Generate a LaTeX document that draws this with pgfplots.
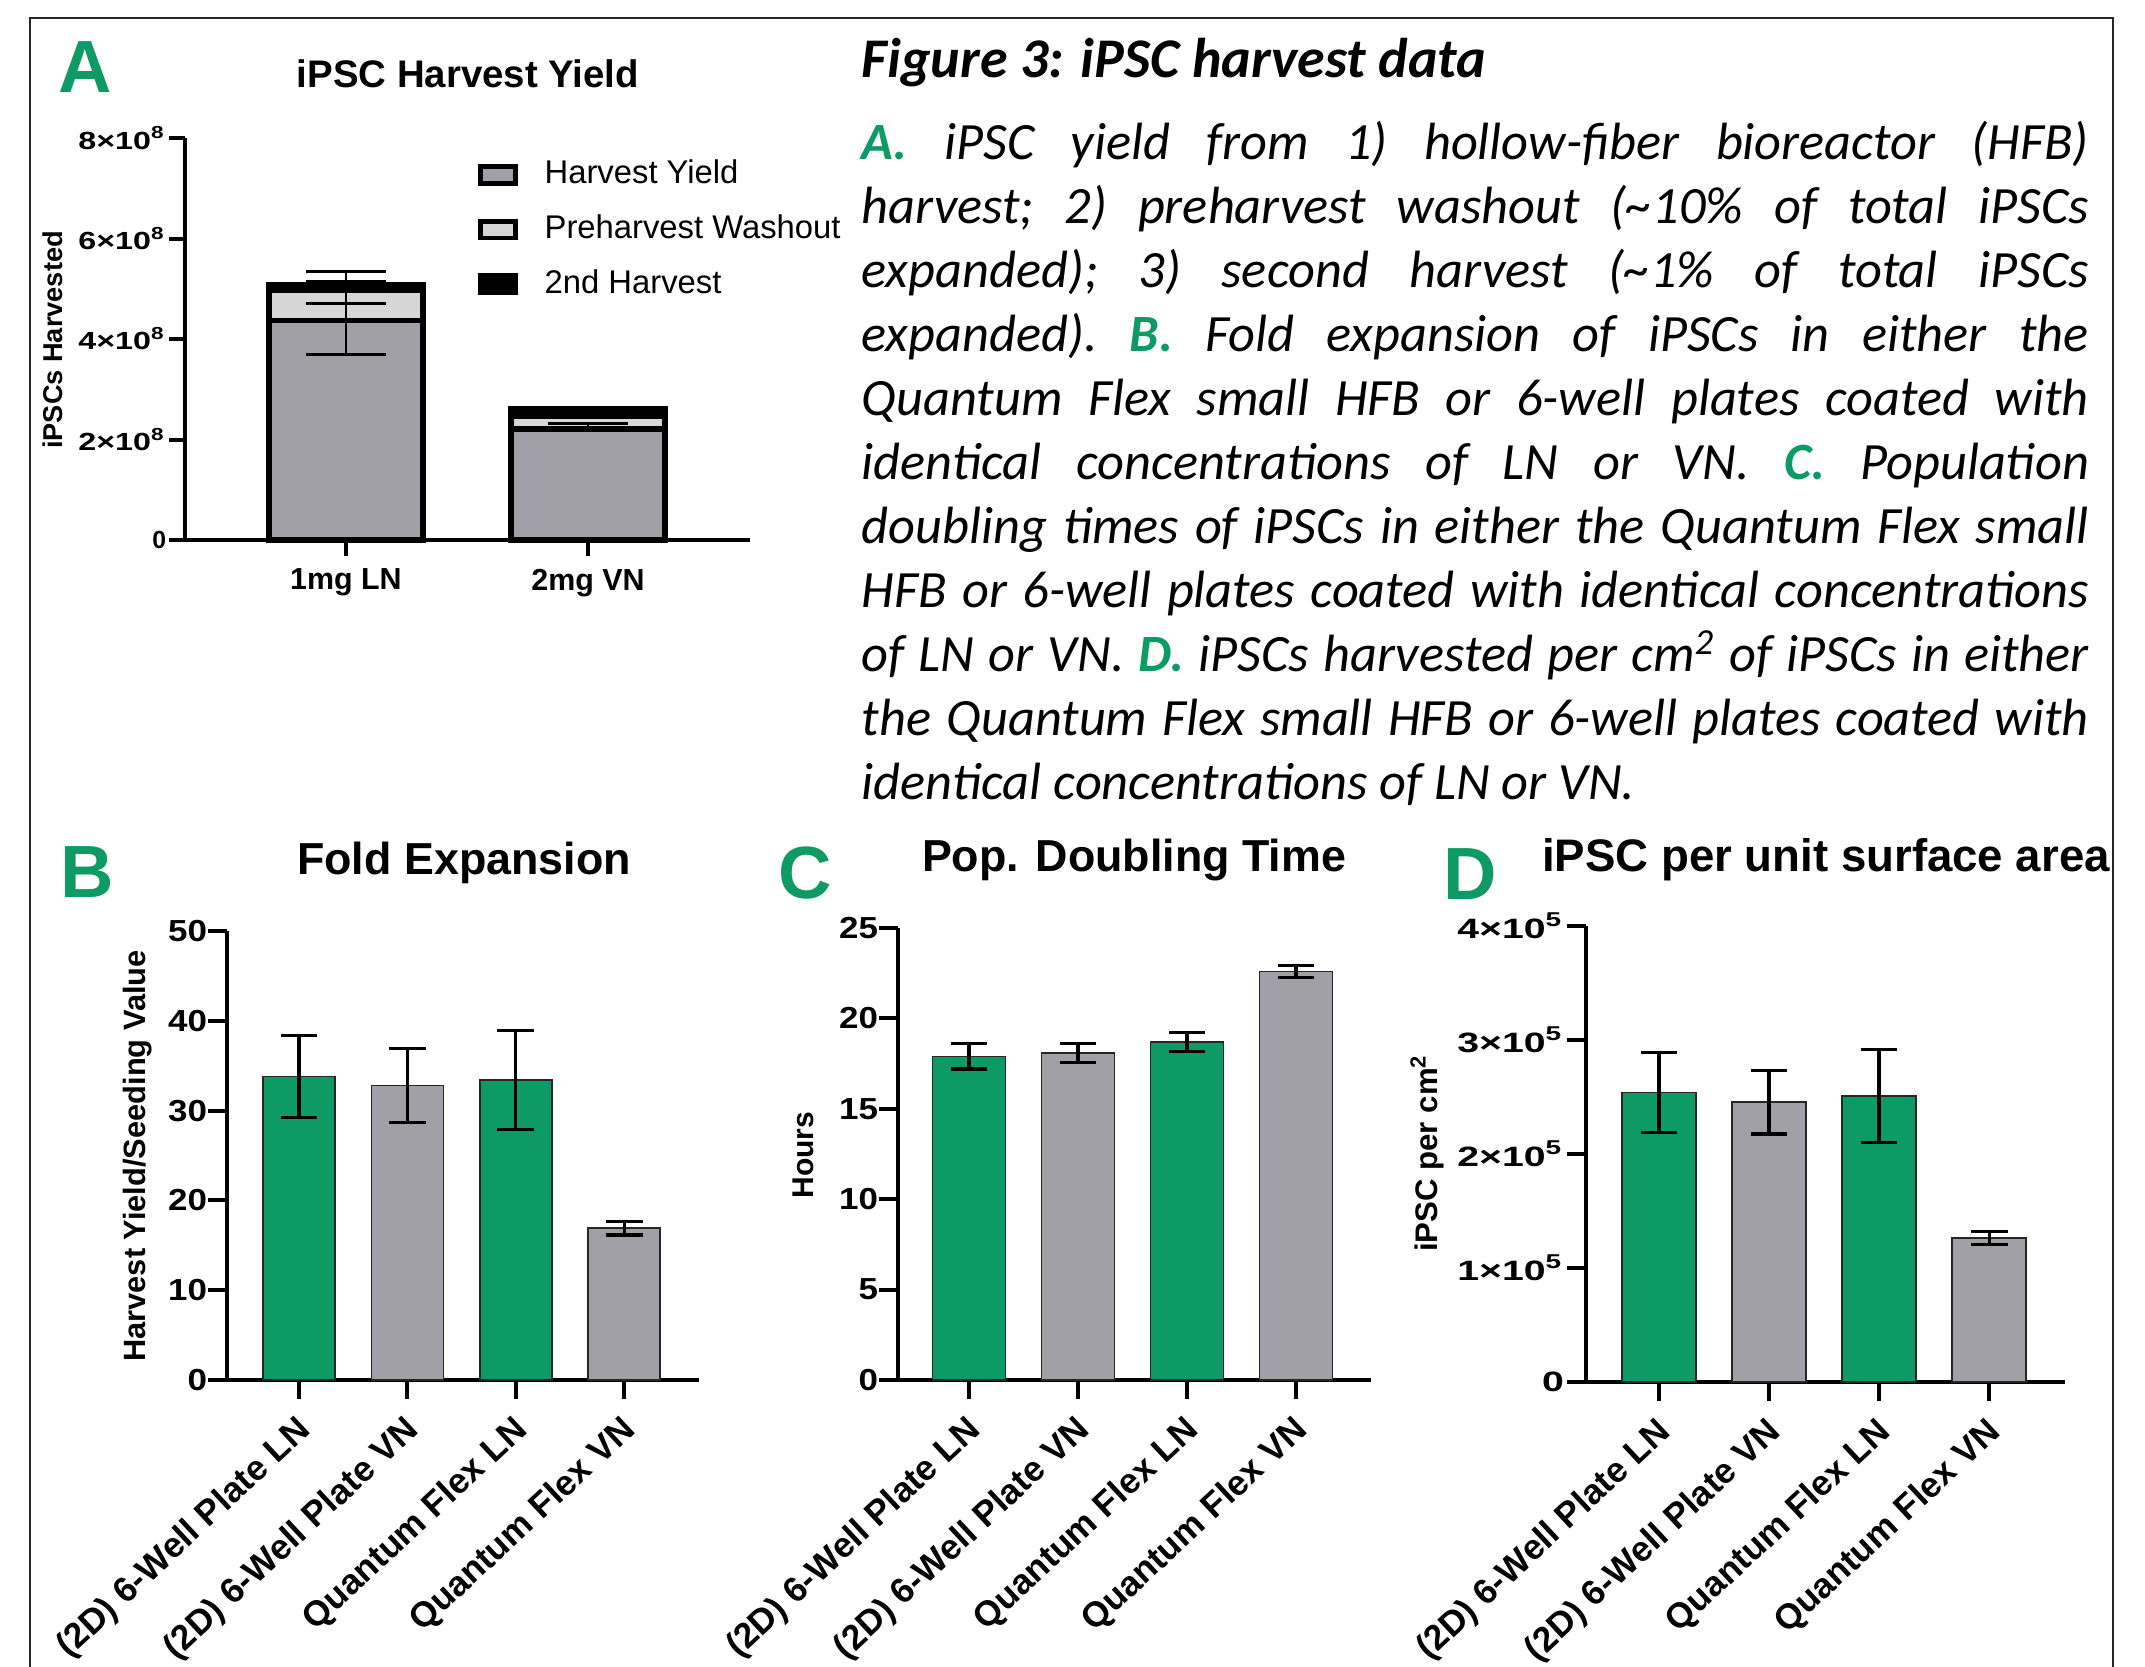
\documentclass[border=0pt]{standalone}
\usepackage{pgfplots}
\pgfplotsset{compat=1.18}
\usepackage{graphicx}
\usepackage{fontspec}
\setmainfont{Liberation Sans}
\newfontfamily\carlito{Carlito}
\definecolor{figgreen}{RGB}{14,154,100}
\definecolor{bargray}{RGB}{160,160,166}
\definecolor{washgray}{RGB}{214,214,214}
\newcommand{\fs}[1]{\fontsize{#1}{#1}\selectfont}
\newcommand{\wl}[2]{\scalebox{#1}[1]{#2}}

\pgfplotsset{
  panel/.style={
    scale only axis,
    anchor=south west,
    axis x line*=bottom, axis y line*=left,
    axis line style={-, line width=1pt, black},
    tick align=outside,
    major tick length=4.8pt,
    tick style={line width=1pt, black},
    ymin=0, clip=false,
    yticklabel style={font=\bfseries\fs{7.6}, inner sep=0pt},
  },
  catpanel/.style={panel,
    xtick={0,1,2,3},
    xticklabels={(2D) 6-Well Plate LN, (2D) 6-Well Plate VN, Quantum Flex LN, Quantum Flex VN},
    xticklabel style={xshift=1.8pt, yshift=-6.5pt, rotate=43, anchor=east, inner sep=0pt, font=\bfseries\fs{8.8}},
    xmin=-0.665, xmax=3.69,
  },
  bars/.style={ybar, bar shift=0pt, fill=#1, draw=black!85, line width=0.4pt,
    error bars/y dir=both, error bars/y explicit,
    error bars/error bar style={draw=black, line width=0.8pt},
    error bars/error mark options={draw=black, rotate=90, mark size=4.6pt, line width=0.8pt}},
  abars/.style={ybar, bar shift=0pt, bar width=38.4pt, fill=#1, draw=black, line width=1.4pt,
    error bars/y dir=both, error bars/y explicit,
    error bars/error bar style={draw=black, line width=0.7pt},
    error bars/error mark options={draw=black, rotate=90, mark size=10pt, line width=0.7pt}},
}

\begin{document}
\begin{tikzpicture}
\useasboundingbox (0,0) rectangle (536.25pt,-416.75pt);
\begin{scope}[x=0.25pt,y=-0.25pt]
\coordinate (Aorig) at (185,540);
\coordinate (Borig) at (227,1380);
\coordinate (Corig) at (898,1380);
\coordinate (Dorig) at (1586,1382);
\draw[line width=0.7pt, black!85] (30,1720) -- (30,18) -- (2113,18) -- (2113,1720);
% panel letters
\node[anchor=base west, inner sep=0pt, text=figgreen, font=\bfseries\fs{18.5}] at (58,93) {A};
\node[anchor=base west, inner sep=0pt, text=figgreen, font=\bfseries\fs{18.5}] at (60,898) {B};
\node[anchor=base west, inner sep=0pt, text=figgreen, font=\bfseries\fs{18.5}] at (778,899) {C};
\node[anchor=base west, inner sep=0pt, text=figgreen, font=\bfseries\fs{18.5}] at (1443,900) {D};
% titles
\node[anchor=base, inner sep=0pt, font=\bfseries\fs{9.6}] at (468,88) {iPSC Harvest Yield};
\node[anchor=base, inner sep=0pt, font=\bfseries\fs{11.2}] at (464,875) {Fold Expansion};
\node[anchor=base, inner sep=0pt, font=\bfseries\fs{11.2}] at (1134,872) {Pop. Doubling Time};
\node[anchor=base, inner sep=0pt, font=\bfseries\fs{11.4}] at (1826,872) {iPSC per unit surface area};
% y labels
\node[anchor=base, inner sep=0pt, rotate=90, font=\bfseries\fs{6.8}] at (63,340) {iPSCs Harvested};
\node[anchor=base, inner sep=0pt, rotate=90, font=\bfseries\fs{7.7}] at (145,1156) {Harvest Yield/Seeding Value};
\node[anchor=base, inner sep=0pt, rotate=90, font=\bfseries\fs{7.5}] at (813,1155) {Hours};
\node[anchor=base, inner sep=0pt, rotate=90, font=\bfseries\fs{7.8}] at (1437,1153) {iPSC per cm\textsuperscript{2}};
% caption
\node[anchor=base west, inner sep=0pt, font=\carlito\bfseries\itshape\fs{14}] at (861,78) {Figure 3: iPSC harvest data};
\node[anchor=base west, inner sep=0pt, text width=306.8pt, align=justify,
      font=\carlito\itshape\fontsize{13.1}{16}\selectfont] at (861,160)
{\parindent=0pt\hyphenpenalty=10000\exhyphenpenalty=10000\frenchspacing
{\color{figgreen}\bfseries A.} iPSC yield from 1) hollow-fiber bioreactor (HFB)\linebreak
harvest; 2) preharvest washout (\textasciitilde10\% of total iPSCs\linebreak
expanded); 3) second harvest (\textasciitilde1\% of total iPSCs\linebreak
expanded). {\color{figgreen}\bfseries B.} Fold expansion of iPSCs in either the\linebreak
Quantum Flex small HFB or 6-well plates coated with\linebreak
identical concentrations of LN or VN. {\color{figgreen}\bfseries C.} Population\linebreak
doubling times of iPSCs in either the Quantum Flex small\linebreak
HFB or 6-well plates coated with identical concentrations\linebreak
of LN or VN. {\color{figgreen}\bfseries D.} iPSCs harvested per cm\textsuperscript{2} of iPSCs in either\linebreak
the Quantum Flex small HFB or 6-well plates coated with\linebreak
identical concentrations of LN or VN.\par};
\end{scope}

% ---------------- Panel A
\begin{axis}[panel, at={(Aorig)}, width=141.25pt, height=100.5pt,
  xmin=-0.665, xmax=1.669, ymax=8, major tick length=4pt,
  xtick={0,1}, xticklabels={1mg LN, 2mg VN},
  xticklabel style={anchor=north, inner sep=0pt, yshift=-3pt, font=\bfseries\fs{7.6}},
  ytick={0,2,4,6,8},
  yticklabels={0, \wl{1.3}{2×10\textsuperscript{8}}, \wl{1.3}{4×10\textsuperscript{8}}, \wl{1.3}{6×10\textsuperscript{8}}, \wl{1.3}{8×10\textsuperscript{8}}},
  yticklabel style={font=\bfseries\fs{6.2}, xshift=-0.5pt},
  legend style={at={(axis description cs:0.519,0.945)}, anchor=north west, draw=none, fill=none,
    inner sep=0pt, outer sep=0pt, row sep=6.2pt, font=\fs{8.2}, nodes={inner sep=0pt},
    /tikz/every odd column/.append style={column sep=6.6pt}},
  legend cell align=left, reverse legend,
]
\addplot[abars=black,
  legend image code/.code={\draw[fill=black, draw=black, line width=1.2pt] (0pt,-2.1pt) rectangle (8.8pt,2.1pt);}]
  coordinates {(0,5.08) += (0,0.26) -= (0,0) (1,2.61) += (0,0.02) -= (0,0)};
\addlegendentry{2nd Harvest}
\addplot[abars=washgray,
  legend image code/.code={\draw[fill=washgray, draw=black, line width=1.2pt] (0pt,-2.1pt) rectangle (8.8pt,2.1pt);}]
  coordinates {(0,4.97) += (0,0.17) -= (0,0.27) (1,2.47) += (0,0) -= (0,0)};
\addlegendentry{Preharvest Washout}
\addplot[abars=bargray,
  legend image code/.code={\draw[fill=bargray, draw=black, line width=1.2pt] (0pt,-2.1pt) rectangle (8.8pt,2.1pt);}]
  coordinates {(0,4.37) += (0,0.33) -= (0,0.68) (1,2.21) += (0,0.11) -= (0,0)};
\addlegendentry{Harvest Yield}
\end{axis}

% ---------------- Panel B
\begin{axis}[catpanel, at={(Borig)}, width=118pt, height=112.25pt,
  ymax=50, ytick={0,10,20,30,40,50},
  yticklabels={\wl{1.15}{0},\wl{1.15}{10},\wl{1.15}{20},\wl{1.15}{30},\wl{1.15}{40},\wl{1.15}{50}},
]
\addplot[bars=figgreen, bar width=18pt] coordinates {(0,33.8) +- (0,4.6) (2,33.4) +- (0,5.5)};
\addplot[bars=bargray, bar width=18pt] coordinates {(1,32.8) +- (0,4.1) (3,16.9) +- (0,0.75)};
\end{axis}

% ---------------- Panel C
\begin{axis}[catpanel, at={(Corig)}, width=118.25pt, height=113pt,
  xmin=-0.651, xmax=3.688,
  ymax=25, ytick={0,5,10,15,20,25},
  yticklabels={\wl{1.15}{0},\wl{1.15}{5},\wl{1.15}{10},\wl{1.15}{15},\wl{1.15}{20},\wl{1.15}{25}},
]
\addplot[bars=figgreen, bar width=18.25pt] coordinates {(0,17.9) +- (0,0.7) (2,18.7) +- (0,0.54)};
\addplot[bars=bargray, bar width=18.25pt] coordinates {(1,18.1) +- (0,0.52) (3,22.6) +- (0,0.32)};
\end{axis}

% ---------------- Panel D
\begin{axis}[catpanel, at={(Dorig)}, width=119.75pt, height=114pt,
  xmin=-0.664, xmax=3.69,
  ymax=4, ytick={0,1,2,3,4},
  yticklabels={\wl{1.4}{0}, \wl{1.4}{1×10\textsuperscript{5}}, \wl{1.4}{2×10\textsuperscript{5}}, \wl{1.4}{3×10\textsuperscript{5}}, \wl{1.4}{4×10\textsuperscript{5}}},
  yticklabel style={font=\bfseries\fs{7}, xshift=-0.5pt},
]
\addplot[bars=figgreen, bar width=18.5pt] coordinates {(0,2.54) +- (0,0.35) (2,2.51) +- (0,0.41)};
\addplot[bars=bargray, bar width=18.5pt] coordinates {(1,2.455) +- (0,0.28) (3,1.265) +- (0,0.057)};
\end{axis}
\end{tikzpicture}
\end{document}
